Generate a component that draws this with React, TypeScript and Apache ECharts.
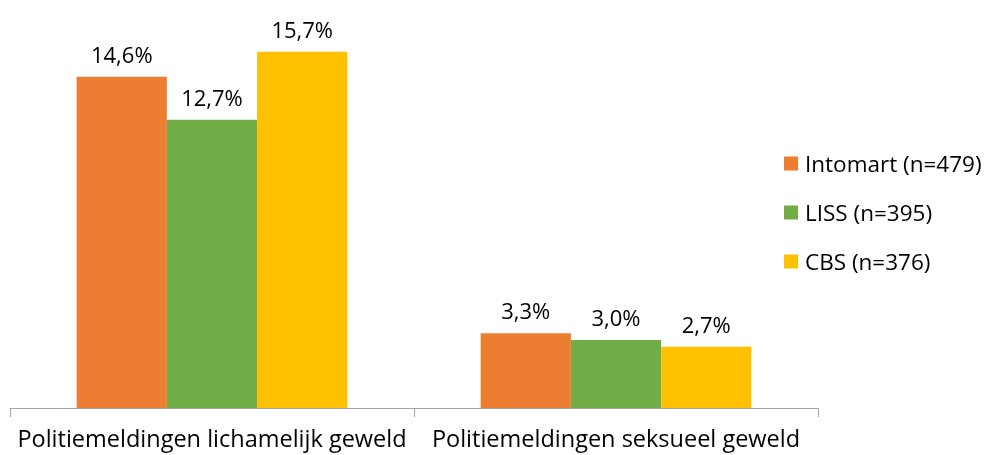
import React, { useEffect, useRef } from "react";
import * as echarts from "echarts";

const categories = ["Politiemeldingen lichamelijk geweld", "Politiemeldingen seksueel geweld"];
const seriesNames = ["Intomart (n=479)", "LISS (n=395)", "CBS (n=376)"];
const intomart = [14.6, 3.3];
const liss = [12.7, 3.0];
const cbs = [15.7, 2.7];
const colors = ["#ED7D31", "#70AD47", "#FFC000"];

export default function App() {
  const ref = useRef<HTMLDivElement>(null);
  useEffect(() => {
    const chart = echarts.init(ref.current!, null, { renderer: "svg" });
    const font = "'Open Sans', sans-serif";
    const dataSets = [intomart, liss, cbs];
    chart.setOption({
      animation: false,
      grid: { left: 10, right: 171, top: 45, bottom: 47, containLabel: false },
      legend: {
        orient: "vertical",
        left: 779,
        top: 147,
        itemWidth: 14,
        itemHeight: 14,
        itemGap: 26,
        icon: "rect",
        textStyle: { fontFamily: font, fontSize: 22.5, color: "#000", padding: [0, 0, 0, 2] },
        data: seriesNames,
      },
      xAxis: {
        type: "category",
        data: categories,
        axisLine: { lineStyle: { color: "#A6A6A6", width: 1 } },
        axisTick: { show: true, length: 9, lineStyle: { color: "#A6A6A6" } },
        axisLabel: { fontFamily: font, fontSize: 23.5, lineHeight: 23, color: "#000", margin: 18, interval: 0 },
      },
      yAxis: { type: "value", min: 0, max: 16, show: false, splitLine: { show: false } },
      series: dataSets.map((d, i) => ({
        name: seriesNames[i],
        type: "bar",
        data: d,
        barGap: "0%",
        barCategoryGap: "33%",
        itemStyle: { color: colors[i] },
        label: {
          show: true,
          position: "top",
          distance: 12,
          fontFamily: font,
          fontSize: 22,
          color: "#000",
          formatter: (p: any) => p.value.toFixed(1).replace(".", ",") + "%",
        },
      })),
    });
    return () => chart.dispose();
  }, []);
  return <div ref={ref} style={{ position: "fixed", left: 0, top: 0, width: 989, height: 455 }} />;
}
